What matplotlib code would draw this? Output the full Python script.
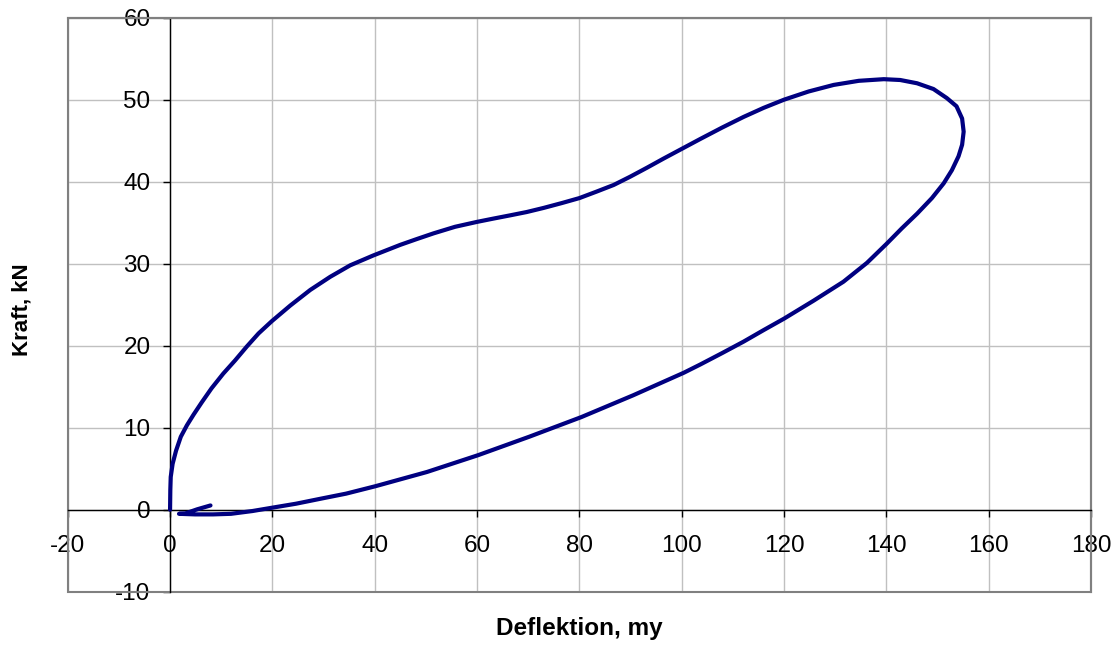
import matplotlib
matplotlib.use("Agg")
import matplotlib.pyplot as plt
from matplotlib.patches import Rectangle

# Data: one closed load/unload loop
deflection = [0, 0.05, 0.13, 0.5, 1.17, 2.1, 3.3, 4.6, 6.2, 8.1, 10.4, 12.7, 15.0, 17.3,
              19.9, 23.5, 27.4, 31.3, 35.2, 39.7, 45.0, 48.2, 51.5, 55.7, 60.0, 63.2,
              66.5, 69.7, 73.0, 76.6, 80.0, 83.4, 86.7, 89.9, 93.2, 96.4, 100.0, 103.6,
              107.9, 112.1, 116.0, 120.0, 124.8, 129.7, 134.6, 139.5, 142.7, 146.0,
              149.2, 151.8, 153.7, 154.8, 155.1, 154.8, 154.1, 152.8, 151.2, 148.9,
              146.0, 143.0, 140.0, 136.2, 131.6, 125.8, 120.0, 116.0, 112.1, 107.9,
              103.6, 100.4, 90.5, 80.4, 70.2, 60.2, 50.2, 40.1, 34.4, 29.5, 24.6, 20.0,
              16.1, 11.9, 8.4, 4.9, 1.75, 3.0, 5.3, 7.9]
force = [0, 2.4, 4.0, 5.6, 7.2, 8.9, 10.3, 11.6, 13.1, 14.8, 16.6, 18.2, 19.9, 21.5,
         23.0, 24.9, 26.8, 28.4, 29.8, 31.0, 32.3, 33.0, 33.7, 34.5, 35.1, 35.5,
         35.9, 36.3, 36.8, 37.4, 38.0, 38.8, 39.6, 40.6, 41.7, 42.8, 44.0, 45.2,
         46.6, 47.9, 49.0, 50.0, 51.0, 51.8, 52.3, 52.5, 52.4, 52.0,
         51.3, 50.2, 49.2, 47.7, 46.1, 44.5, 43.1, 41.4, 39.8, 38.0,
         36.1, 34.3, 32.4, 30.1, 27.8, 25.5, 23.3, 21.9, 20.5, 19.1,
         17.7, 16.7, 13.95, 11.3, 8.9, 6.65, 4.6, 2.86, 1.96, 1.35, 0.73, 0.25,
         -0.16, -0.5, -0.57, -0.57, -0.5, -0.45, 0.05, 0.52]

x_ticks = list(range(-20, 181, 20))
y_ticks = list(range(-10, 61, 10))
x_label = "Deflektion, my"
y_label = "Kraft, kN"

plt.rcParams['font.family'] = ['Liberation Sans', 'DejaVu Sans']
plt.rcParams['axes.unicode_minus'] = False

fig = plt.figure(figsize=(11.14, 6.45), dpi=100)
ax = fig.add_axes([0.0608, 0.0826, 0.9794 - 0.0608, 0.9726 - 0.0826])

ax.set_xlim(-20, 180)
ax.set_ylim(-10, 60)
ax.set_xticks(x_ticks)
ax.set_yticks(y_ticks)

ax.grid(True, color='#c0c0c0', linewidth=1.0)
ax.set_axisbelow(True)

ax.spines['left'].set_position(('data', 0))
ax.spines['bottom'].set_position(('data', 0))
for s in ('left', 'bottom'):
    ax.spines[s].set_color('black')
    ax.spines[s].set_linewidth(1.0)
    ax.spines[s].set_zorder(2.5)
for s in ('top', 'right'):
    ax.spines[s].set_color('#808080')
    ax.spines[s].set_linewidth(1.5)

frame = Rectangle((0, 0), 1, 1, transform=ax.transAxes, fill=False,
                  edgecolor='#808080', linewidth=1.5, clip_on=False, zorder=2)
ax.add_patch(frame)

ax.tick_params(axis='both', direction='out', length=5, width=1, color='black',
               labelsize=17.5, labelcolor='black')
ax.tick_params(axis='y', pad=9)
ax.tick_params(axis='x', pad=13)

ax.plot(deflection, force, color='#000080', linewidth=3.0, solid_capstyle='round',
        solid_joinstyle='round', zorder=3)

fig.text(22.5 / 1114, 1 - 310 / 645, y_label, rotation=90, ha='center', va='center',
         fontsize=16, fontweight='bold')
fig.text(579.4 / 1114, 1 - 629 / 645, x_label, ha='center', va='center',
         fontsize=17.5, fontweight='bold')

fig.savefig('out.png', dpi=100)
